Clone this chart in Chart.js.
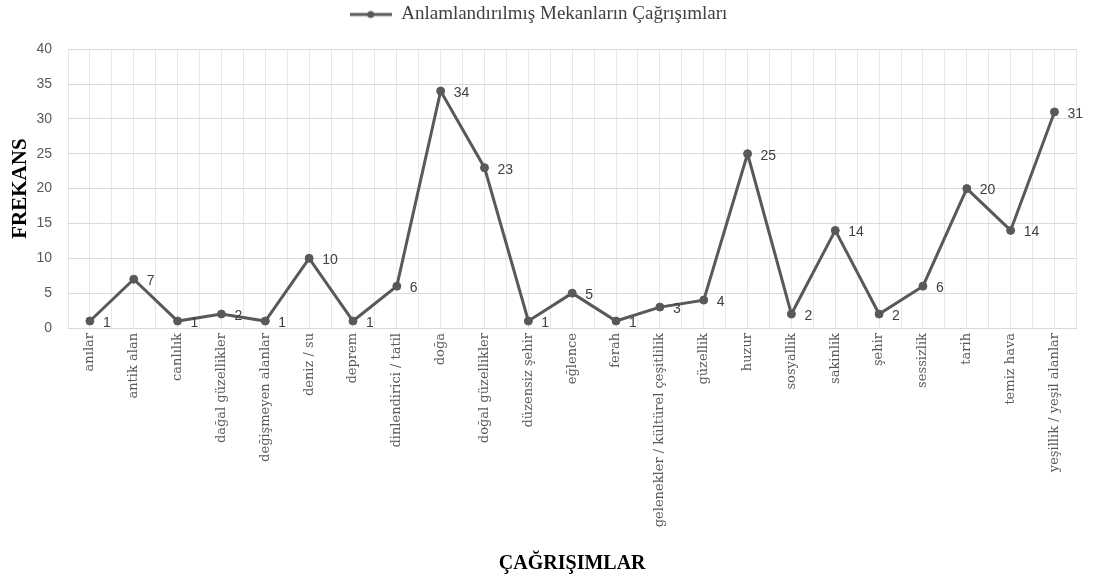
<!DOCTYPE html>
<html>
<head>
<meta charset="utf-8">
<script src="https://cdn.jsdelivr.net/npm/chart.js@4.4.0/dist/chart.umd.min.js"></script>
<style>
  html, body { margin: 0; padding: 0; background: #ffffff; }
  #wrap { width: 1097px; height: 576px; position: relative; }
</style>
</head>
<body>
<div id="wrap"><canvas id="c" width="1097" height="576"></canvas></div>
<script>
const categories = [
  "anılar", "antik alan", "canlılık", "dağal güzellikler", "değişmeyen alanlar",
  "deniz / su", "deprem", "dinlendirici / tatil", "doğa", "doğal güzellikler",
  "düzensiz şehir", "eğlence", "ferah", "gelenekler / kültürel çeşitlilik",
  "güzellik", "huzur", "sosyallik", "sakinlik", "şehir", "sessizlik",
  "tarih", "temiz hava", "yeşillik / yeşil alanlar"
];
const frequencies = [1, 7, 1, 2, 1, 10, 1, 6, 34, 23, 1, 5, 1, 3, 4, 25, 2, 14, 2, 6, 20, 14, 31];
const yTicks = [0, 5, 10, 15, 20, 25, 30, 35, 40];
const seriesName = "Anlamlandırılmış Mekanların Çağrışımları";
const xTitle = "ÇAĞRIŞIMLAR";
const yTitle = "FREKANS";

const lineColor = '#595959';

// legend marker: line with dot
const marker = document.createElement('canvas');
marker.width = 42; marker.height = 10;
(function () {
  const g = marker.getContext('2d');
  g.strokeStyle = lineColor; g.lineWidth = 3;
  g.beginPath(); g.moveTo(0, 5); g.lineTo(42, 5); g.stroke();
  g.fillStyle = lineColor;
  g.beginPath(); g.arc(21, 5, 3.5, 0, Math.PI * 2); g.fill();
})();

const pointLabels = {
  id: 'pointLabels',
  afterDatasetsDraw(chart) {
    const ctx = chart.ctx;
    const meta = chart.getDatasetMeta(0);
    ctx.save();
    ctx.font = '14px "Liberation Sans", Arial, sans-serif';
    ctx.fillStyle = '#404040';
    ctx.textAlign = 'left';
    ctx.textBaseline = 'middle';
    meta.data.forEach((pt, i) => {
      ctx.fillText(String(frequencies[i]), pt.x + 13, pt.y + 2);
    });
    ctx.restore();
  }
};

const points = frequencies.map((v, i) => ({ x: i, y: v }));

new Chart(document.getElementById('c'), {
  type: 'line',
  data: {
    datasets: [{
      label: seriesName,
      data: points,
      borderColor: lineColor,
      backgroundColor: lineColor,
      borderWidth: 3,
      pointStyle: 'circle',
      pointRadius: 4,
      pointBorderWidth: 1,
      pointBackgroundColor: lineColor,
      pointBorderColor: lineColor,
      tension: 0
    }]
  },
  options: {
    responsive: false,
    animation: false,
    layout: { padding: { left: 0, right: 20, top: 0, bottom: 0 } },
    plugins: {
      tooltip: { enabled: false },
      legend: {
        display: true,
        position: 'top',
        weight: 3000,
        labels: {
          usePointStyle: true,
          pointStyle: marker,
          pointStyleWidth: 42,
          boxHeight: 10,
          color: '#404040',
          font: { family: '"Liberation Serif", "Times New Roman", serif', size: 19 },
          padding: 5
        }
      },
      subtitle: {
        display: true,
        text: ' ',
        position: 'top',
        weight: 500,
        font: { size: 1 },
        padding: { top: 0, bottom: 14 }
      }
    },
    scales: {
      x: {
        type: 'linear',
        min: -0.5,
        max: categories.length - 0.5,
        afterBuildTicks(scale) {
          const t = [];
          for (let k = 0; k <= categories.length * 2; k++) t.push({ value: -0.5 + k * 0.5 });
          scale.ticks = t;
        },
        afterFit(scale) { scale.height = 248; },
        grid: { color: '#e8e8e8', lineWidth: 1, drawTicks: false },
        border: { display: true, color: '#d9d9d9', width: 1 },
        ticks: {
          autoSkip: false,
          maxRotation: 90,
          minRotation: 90,
          padding: 5,
          color: '#595959',
          font: { family: '"DejaVu Serif", serif', size: 13 },
          callback: (v) => Number.isInteger(v) ? categories[v] : ''
        },
        title: {
          display: true,
          text: xTitle,
          color: '#000000',
          font: { family: '"Liberation Serif", "Times New Roman", serif', size: 20, weight: 'bold' },
          padding: { top: 0, bottom: 0 }
        }
      },
      y: {
        min: 0,
        max: 40,
        afterBuildTicks(scale) { scale.ticks = yTicks.map(v => ({ value: v })); },
        afterFit(scale) { scale.width = 68; },
        grid: { color: '#d9d9d9', lineWidth: 1, drawTicks: false },
        border: { display: false },
        ticks: {
          padding: 16,
          color: '#595959',
          font: { family: '"Liberation Sans", Arial, sans-serif', size: 14 }
        },
        title: {
          display: true,
          text: yTitle,
          color: '#000000',
          font: { family: '"Liberation Serif", "Times New Roman", serif', size: 21, weight: 'bold' },
          padding: { top: 8, bottom: 0 }
        }
      }
    }
  },
  plugins: [pointLabels]
});
</script>
</body>
</html>
